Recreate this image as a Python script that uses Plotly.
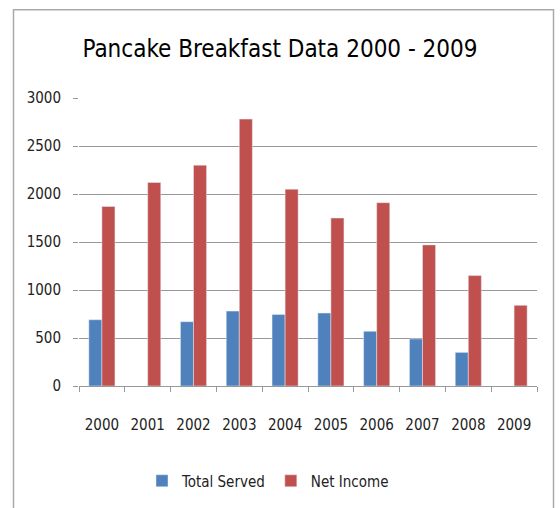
import plotly.graph_objects as go

years = ["2000", "2001", "2002", "2003", "2004", "2005", "2006", "2007", "2008", "2009"]
total_served = [690, None, 670, 780, 745, 760, 570, 490, 350, None]
net_income = [1870, 2120, 2300, 2780, 2050, 1750, 1910, 1470, 1150, 840]
y_ticks = [0, 500, 1000, 1500, 2000, 2500, 3000]

FONT = "DejaVu Sans Condensed, Liberation Sans Narrow, sans-serif"

fig = go.Figure()
fig.add_trace(go.Bar(x=years, y=total_served, name="Total Served", marker_color="#4F81BD"))
fig.add_trace(go.Bar(x=years, y=net_income, name="Net Income", marker_color="#C0504D"))

W, H = 560, 508
L, R, T, B = 79, 23, 98, 121
pw, ph = W - L - R, H - T - B

def px_x(p):
    return (p - L) / pw

def px_y(p):
    return (H - B - p) / ph

fig.update_layout(
    width=W, height=H,
    margin=dict(l=L, r=R, t=T, b=B),
    paper_bgcolor="white", plot_bgcolor="white",
    barmode="group", bargap=0.43, bargroupgap=0,
    title=dict(text="Pancake Breakfast Data 2000 - 2009", x=0.5, xanchor="center",
               y=1 - 49 / H, yanchor="middle",
               font=dict(family=FONT, size=24, color="#000000")),
    font=dict(family=FONT, size=15, color="#222222"),
    showlegend=True,
    legend=dict(orientation="h", x=px_x(268), xanchor="center", y=px_y(481), yanchor="middle",
                font=dict(family=FONT, size=15, color="#222222"), itemwidth=30,
                traceorder="normal"),
    xaxis=dict(type="category", ticks="outside", tickson="boundaries", ticklen=5,
               tickcolor="#999999", showline=True, linecolor="#999999", linewidth=1,
               showgrid=False, tickfont=dict(size=15), ticklabelstandoff=25),
    yaxis=dict(range=[0, 3000], tickvals=y_ticks, ticks="outside", ticklen=5,
               tickcolor="#999999", showline=False, showgrid=True, gridcolor="#999999",
               gridwidth=1, zeroline=False, tickfont=dict(size=15), ticklabelstandoff=9),
    shapes=[dict(type="rect", xref="paper", yref="paper",
                 x0=px_x(13.5), x1=px_x(553.5), y0=px_y(9.5), y1=px_y(520),
                 line=dict(color="#AAAAAA", width=1.5), layer="below")],
)

fig.write_html("out.html")
